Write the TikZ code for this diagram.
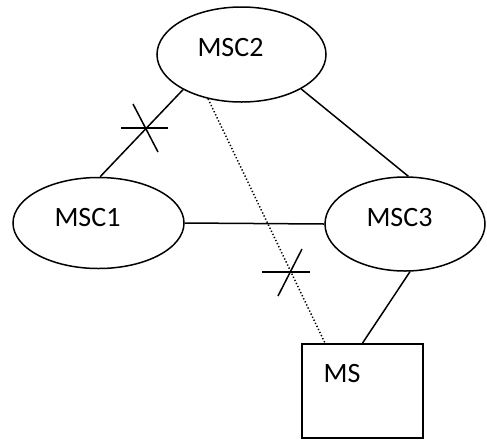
\documentclass[tikz,border=0pt]{standalone}
\usepackage{fontspec}
\setmainfont{Carlito}
\usetikzlibrary{shapes.geometric}
\begin{document}
\begin{tikzpicture}[x=1pt,y=-1pt,
  msc/.style={draw, ellipse, inner sep=0pt, line width=1.5pt},
  lbl/.style={inner sep=0pt, font=\fontsize{28}{30}\selectfont},
  link/.style={line width=1.5pt},
  radio/.style={line width=1.5pt, dash pattern=on 1.3pt off 2.1pt},
  cut/.style={line width=1.5pt}]
\useasboundingbox (0,0) rectangle (487,440);

% switching centres
\node[msc, minimum width=169pt, minimum height=95pt] (msc2) at (241.5,54.5) {};
\node[msc, minimum width=171pt, minimum height=91pt] (msc1) at (98.5,223) {};
\node[msc, minimum width=160pt, minimum height=94pt] (msc3) at (405,224) {};
\node[lbl] (t2) at (230.5,48) {MSC2};
\node[lbl] (t1) at (87.5,217.5) {MSC1};
\node[lbl] (t3) at (399.5,217.5) {MSC3};

% mobile station
\node[draw, line width=1.8pt, minimum width=121pt, minimum height=94pt, inner sep=0pt] (ms) at (362.5,391) {};
\node[lbl] (tms) at (342,374) {MS};

% links
\draw[link] (msc1.88) -- (msc2.211);
\draw[link] (msc2.330) -- (msc3.86);
\draw[link] (msc1.east) -- (msc3.west);
\draw[link] (msc3.276) -- (ms.north);
\draw[radio] (msc2.233) -- ([xshift=-37.5pt]ms.north);

% broken-link marks
\coordinate (c1) at (145,128);
\coordinate (c2) at (290,272);
\draw[cut] ([shift={(-24,0)}]c1) -- ([shift={(23,0)}]c1);
\draw[cut] ([shift={(-12,-24)}]c1) -- ([shift={(13,24)}]c1);
\draw[cut] ([shift={(-28,0)}]c2) -- ([shift={(20,0)}]c2);
\draw[cut] ([shift={(-12,24)}]c2) -- ([shift={(12,-23)}]c2);
\end{tikzpicture}
\end{document}
